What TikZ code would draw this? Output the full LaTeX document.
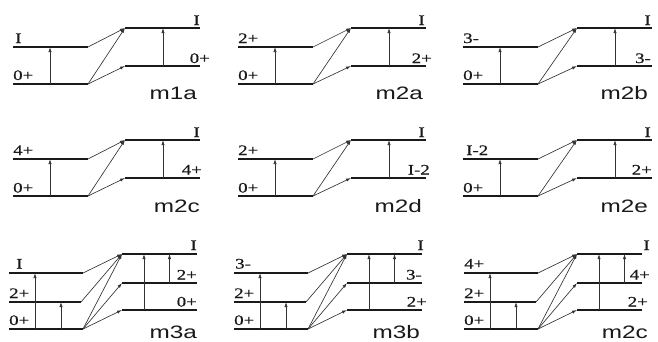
\documentclass[tikz,border=0pt]{standalone}
\usepackage{fontspec}
\usetikzlibrary{arrows.meta}
\newfontfamily\lblfont[FakeStretch=1.3,FakeBold=0.6]{Liberation Serif}
\newfontfamily\namefont[FakeStretch=1.35]{Liberation Sans}
\definecolor{ink}{HTML}{1A1A1A}
\definecolor{arrink}{HTML}{333333}
\tikzset{
  level/.style={line width=1.9pt, draw=ink},
  arr/.style={line width=0.65pt, draw=arrink, -{Latex[length=5pt,width=3.2pt]}},
  lbl/.style={font=\lblfont\fontsize{14.5}{16}\selectfont, inner sep=0pt, text=ink},
  pname/.style={font=\namefont\fontsize{18}{20}\selectfont, inner sep=0pt, text=ink, anchor=base east},
}
% two-level panel: #1 prefix, #2 left x, #3 right x, #4 vertical shift
\newcommand\twopanel[4]{%
  \begin{scope}[shift={(0,#4)}]
    \coordinate (#1LUa) at (#2,47);    \coordinate (#1LUb) at (#2+75,47);
    \coordinate (#1LLa) at (#2,84);    \coordinate (#1LLb) at (#2+75,84);
    \coordinate (#1RUa) at (#3,28);    \coordinate (#1RUb) at (#3+75,28);
    \coordinate (#1RLa) at (#3,66);    \coordinate (#1RLb) at (#3+75,66);
    \coordinate (#1vl) at (#2+37,84);  \coordinate (#1vr) at (#3+38,66);
    \draw[level] (#1LUa) -- (#1LUb);
    \draw[level] (#1LLa) -- (#1LLb);
    \draw[level] (#1RUa) -- (#1RUb);
    \draw[level] (#1RLa) -- (#1RLb);
    \draw[arr] (#1LUb) -- (#1RUa);
    \draw[arr] (#1LLb) -- (#1RUa);
    \draw[arr] (#1LLb) -- (#1RLa);
    \draw[arr] (#1vl) -- (#1vl |- #1LUa);
    \draw[arr] (#1vr) -- (#1vr |- #1RUa);
  \end{scope}}
% three-level panel: #1 prefix, #2 left x, #3 right x, #4 right length
\newcommand\threepanel[4]{%
    \coordinate (#1LUa) at (#2,273);   \coordinate (#1LUb) at (#2+74,273);
    \coordinate (#1LMa) at (#2,302);   \coordinate (#1LMb) at (#2+72,302);
    \coordinate (#1LLa) at (#2,329);   \coordinate (#1LLb) at (#2+74,329);
    \coordinate (#1RUa) at (#3,254);   \coordinate (#1RUb) at (#3+#4,254);
    \coordinate (#1RMa) at (#3,283);   \coordinate (#1RMb) at (#3+#4,283);
    \coordinate (#1RLa) at (#3,310);   \coordinate (#1RLb) at (#3+#4,310);
    \coordinate (#1v1) at (#2+26,329); \coordinate (#1v2) at (#2+52,329);
    \coordinate (#1v3) at (#3+22,310); \coordinate (#1v4) at (#3+47.5,283);
    \draw[level] (#1LUa) -- (#1LUb);
    \draw[level] (#1LMa) -- (#1LMb);
    \draw[level] (#1LLa) -- (#1LLb);
    \draw[level] (#1RUa) -- (#1RUb);
    \draw[level] (#1RMa) -- (#1RMb);
    \draw[level] (#1RLa) -- (#1RLb);
    \draw[arr] (#1LUb) -- (#1RUa);
    \draw[arr] (#1LMb) -- (#1RUa);
    \draw[arr] (#1LLb) -- (#1RUa);
    \draw[arr] (#1LLb) -- (#1RMa);
    \draw[arr] (#1LLb) -- (#1RLa);
    \draw[arr] (#1v1) -- (#1v1 |- #1LUa);
    \draw[arr] (#1v2) -- (#1v2 |- #1LMa);
    \draw[arr] (#1v3) -- (#1v3 |- #1RUa);
    \draw[arr] (#1v4) -- (#1v4 |- #1RUa);}
\begin{document}
\begin{tikzpicture}[x=1pt,y=-1pt]
\useasboundingbox[fill=white] (0,0) rectangle (658,341);
% ---- row 1
\twopanel{a}{13}{125}{0}
\twopanel{b}{238}{351}{0}
\twopanel{c}{463}{577}{0}
% ---- row 2
\twopanel{d}{13}{125}{112}
\twopanel{e}{238}{351}{112}
\twopanel{f}{463}{577}{112}
% ---- row 3
\threepanel{g}{9}{122}{75}
\threepanel{h}{234}{347}{75}
\threepanel{k}{464}{577}{65}
% ---- labels row 1
\node[lbl,anchor=base west] (aL1) at (15,43) {I};
\node[lbl,anchor=base west] (aL0) at (13,80) {0+};
\node[lbl,anchor=base east] (aR1) at (200,25) {I};
\node[lbl,anchor=base east] (aR0) at (210,63) {0+};
\node[pname] (aN) at (197,99.5) {m1a};
\node[lbl,anchor=base west] (bL1) at (238,43) {2+};
\node[lbl,anchor=base west] (bL0) at (238,80) {0+};
\node[lbl,anchor=base east] (bR1) at (425,25) {I};
\node[lbl,anchor=base east] (bR0) at (432,63) {2+};
\node[pname] (bN) at (423,99.5) {m2a};
\node[lbl,anchor=base west] (cL1) at (463,43) {3-};
\node[lbl,anchor=base west] (cL0) at (463,80) {0+};
\node[lbl,anchor=base east] (cR1) at (651,25) {I};
\node[lbl,anchor=base east] (cR0) at (651,63) {3-};
\node[pname] (cN) at (648,99.5) {m2b};
% ---- labels row 2
\node[lbl,anchor=base west] (dL1) at (13,155) {4+};
\node[lbl,anchor=base west] (dL0) at (13,192.5) {0+};
\node[lbl,anchor=base east] (dR1) at (200,137) {I};
\node[lbl,anchor=base east] (dR0) at (202,174.5) {4+};
\node[pname] (dN) at (200,212) {m2c};
\node[lbl,anchor=base west] (eL1) at (238,155) {2+};
\node[lbl,anchor=base west] (eL0) at (238,192.5) {0+};
\node[lbl,anchor=base east] (eR1) at (425,137) {I};
\node[lbl,anchor=base east] (eR0) at (430,174.5) {I-2};
\node[pname] (eN) at (422,212) {m2d};
\node[lbl,anchor=base west] (fL1) at (466,155) {I-2};
\node[lbl,anchor=base west] (fL0) at (463,192.5) {0+};
\node[lbl,anchor=base east] (fR1) at (651,137) {I};
\node[lbl,anchor=base east] (fR0) at (652,174.5) {2+};
\node[pname] (fN) at (648,212) {m2e};
% ---- labels row 3
\node[lbl,anchor=base west] (gL2) at (16,268.5) {I};
\node[lbl,anchor=base west] (gL1) at (9,298) {2+};
\node[lbl,anchor=base west] (gL0) at (9,325) {0+};
\node[lbl,anchor=base east] (gR2) at (197,250) {I};
\node[lbl,anchor=base east] (gR1) at (197,279.5) {2+};
\node[lbl,anchor=base east] (gR0) at (197,306.5) {0+};
\node[pname] (gN) at (197,338) {m3a};
\node[lbl,anchor=base west] (hL2) at (235,268.5) {3-};
\node[lbl,anchor=base west] (hL1) at (234,298) {2+};
\node[lbl,anchor=base west] (hL0) at (234,325) {0+};
\node[lbl,anchor=base east] (hR2) at (424,250) {I};
\node[lbl,anchor=base east] (hR1) at (422,279.5) {3-};
\node[lbl,anchor=base east] (hR0) at (427,306.5) {2+};
\node[pname] (hN) at (420,338) {m3b};
\node[lbl,anchor=base west] (kL2) at (464,268.5) {4+};
\node[lbl,anchor=base west] (kL1) at (464,298) {2+};
\node[lbl,anchor=base west] (kL0) at (464,325) {0+};
\node[lbl,anchor=base east] (kR2) at (650,250) {I};
\node[lbl,anchor=base east] (kR1) at (650,279.5) {4+};
\node[lbl,anchor=base east] (kR0) at (648,306.5) {2+};
\node[pname] (kN) at (648,338) {m2c};
\end{tikzpicture}
\end{document}
